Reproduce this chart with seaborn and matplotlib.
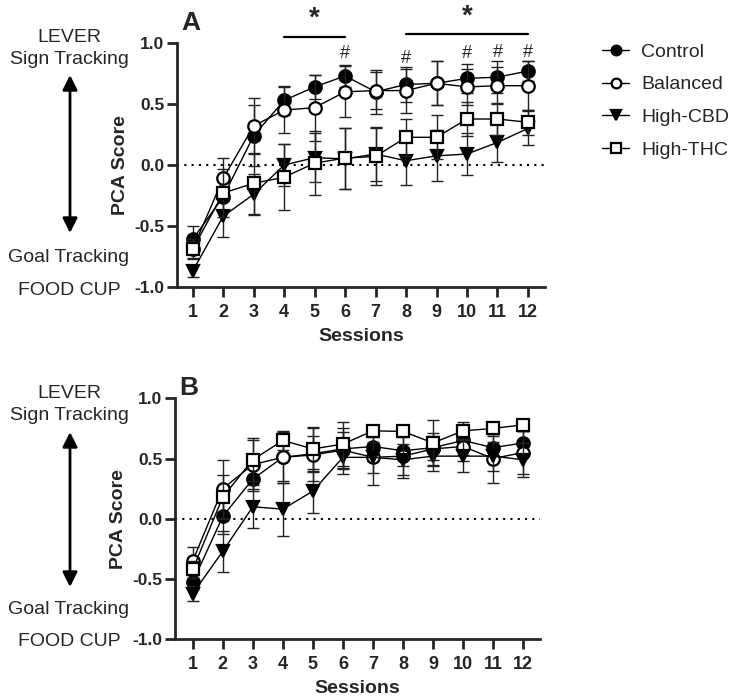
import numpy as np
import pandas as pd
import seaborn as sns
import matplotlib.pyplot as plt
from matplotlib.lines import Line2D

# Sessions 1..12
sessions = list(range(1, 13))
groups = ['Control', 'Balanced', 'High-CBD', 'High-THC']

# Panel A means / SEM
a_control = [-0.61, -0.26, 0.24, 0.53, 0.64, 0.73, 0.60, 0.66, 0.67, 0.71, 0.72, 0.77]
a_balanced = [-0.69, -0.11, 0.32, 0.45, 0.47, 0.60, 0.61, 0.61, 0.67, 0.64, 0.65, 0.65]
a_cbd = [-0.87, -0.42, -0.24, 0.00, 0.06, 0.05, 0.09, 0.035, 0.075, 0.09, 0.185, 0.30]
a_thc = [-0.69, -0.23, -0.15, -0.10, 0.015, 0.057, 0.07, 0.227, 0.227, 0.377, 0.377, 0.35]
a_control_err = [0.11, 0.12, 0.25, 0.12, 0.10, 0.09, 0.18, 0.14, 0.18, 0.12, 0.13, 0.08]
a_balanced_err = [0.08, 0.17, 0.23, 0.19, 0.27, 0.21, 0.15, 0.18, 0.18, 0.15, 0.15, 0.20]
a_cbd_err = [0.05, 0.17, 0.17, 0.17, 0.20, 0.25, 0.22, 0.20, 0.21, 0.17, 0.16, 0.14]
a_thc_err = [0.07, 0.20, 0.25, 0.27, 0.26, 0.25, 0.23, 0.15, 0.18, 0.14, 0.13, 0.10]

# Panel B means / SEM
b_control = [-0.525, 0.02, 0.33, 0.51, 0.54, 0.58, 0.60, 0.565, 0.59, 0.65, 0.59, 0.63]
b_balanced = [-0.35, 0.25, 0.45, 0.51, 0.53, 0.57, 0.51, 0.52, 0.58, 0.60, 0.50, 0.55]
b_cbd = [-0.62, -0.27, 0.10, 0.08, 0.23, 0.51, 0.51, 0.49, 0.52, 0.52, 0.52, 0.49]
b_thc = [-0.42, 0.18, 0.49, 0.65, 0.58, 0.62, 0.73, 0.725, 0.63, 0.73, 0.75, 0.78]
b_control_err = [0.06, 0.15, 0.10, 0.20, 0.15, 0.17, 0.12, 0.13, 0.10, 0.12, 0.10, 0.10]
b_balanced_err = [0.12, 0.24, 0.20, 0.21, 0.22, 0.15, 0.23, 0.18, 0.13, 0.12, 0.20, 0.18]
b_cbd_err = [0.06, 0.17, 0.18, 0.22, 0.18, 0.14, 0.13, 0.13, 0.12, 0.13, 0.12, 0.14]
b_thc_err = [0.07, 0.18, 0.18, 0.08, 0.18, 0.18, 0.05, 0.05, 0.19, 0.07, 0.05, 0.05]

# significance marks on panel A
hash_sessions = [6, 8, 10, 11, 12]
hash_y = [0.915, 0.87, 0.91, 0.92, 0.92]
star_ranges = [(4, 6), (8, 12)]

styles = {
    'Control': dict(marker='o', mfc='black'),
    'Balanced': dict(marker='o', mfc='white'),
    'High-CBD': dict(marker='v', mfc='black'),
    'High-THC': dict(marker='s', mfc='white'),
}

sns.set_style('ticks')
plt.rcParams['font.family'] = ['Liberation Sans', 'DejaVu Sans']

W, H = 732, 698


def make_df(means, errs):
    rows = []
    for g, m, e in zip(groups, means, errs):
        for s, v, ee in zip(sessions, m, e):
            rows.append({'session': s, 'score': v, 'err': ee, 'group': g})
    return pd.DataFrame(rows)


def draw_panel(ax, df, letter, letter_y, side_y):
    for i, g in enumerate(groups):
        d = df[df.group == g]
        ax.errorbar(d['session'], d['score'], yerr=d['err'], fmt='none', ecolor='#222222',
                    elinewidth=1.0, capsize=4, capthick=1.0, zorder=2 + i)
        sns.lineplot(data=d, x='session', y='score', ax=ax, color='black', lw=1.0,
                     marker=styles[g]['marker'], markersize=9 if styles[g]['marker'] != 'v' else 8,
                     markerfacecolor=styles[g]['mfc'], markeredgecolor='black',
                     markeredgewidth=1.6, zorder=3 + i, legend=False)
    ax.axhline(0, color='black', ls=(0, (1, 2.5)), lw=1.5, zorder=1)
    ax.set_ylim(-1, 1)
    ax.set_xticks(sessions)
    ax.set_yticks([-1.0, -0.5, 0.0, 0.5, 1.0])
    ax.set_yticklabels(['-1.0', '-0.5', '0.0', '0.5', '1.0'])
    for sp in ['left', 'bottom']:
        ax.spines[sp].set_linewidth(2)
    sns.despine(ax=ax)
    ax.tick_params(axis='x', width=2, length=7, labelsize=13, pad=5)
    ax.tick_params(axis='y', width=2, length=7, labelsize=12.5, pad=2)
    for t in ax.get_xticklabels() + ax.get_yticklabels():
        t.set_fontweight('bold')
    ax.set_xlabel('Sessions', fontsize=14, fontweight='bold', labelpad=5)
    ax.set_ylabel('PCA Score', fontsize=14, fontweight='bold', labelpad=4)
    ax.text(0.012, letter_y, letter, transform=ax.transAxes, fontsize=19,
            fontweight='bold', va='baseline', ha='left')
    # left-side direction annotation (figure pixel positions)
    tx = 69 / W
    y_lever, y_sign, y_top, y_bot, y_goal, y_food = side_y
    fig = ax.figure
    for txt, yy in [('LEVER', y_lever), ('Sign Tracking', y_sign),
                    ('Goal Tracking', y_goal), ('FOOD CUP', y_food)]:
        fig.text(tx, 1 - yy / H, txt, ha='center', va='center', fontsize=14)
    ax.annotate('', xy=(70 / W, 1 - y_top / H), xytext=(70 / W, 1 - y_bot / H),
                xycoords='figure fraction',
                arrowprops=dict(arrowstyle='<|-|>', color='black', lw=2,
                                mutation_scale=22, shrinkA=0, shrinkB=0))


fig = plt.figure(figsize=(W / 100, H / 100), dpi=100)
ax_a = fig.add_axes([177 / W, 1 - 287 / H, 368 / W, 244 / H])
ax_b = fig.add_axes([175 / W, 1 - 639.3 / H, 365 / W, 241 / H])

df_a = make_df([a_control, a_balanced, a_cbd, a_thc],
               [a_control_err, a_balanced_err, a_cbd_err, a_thc_err])
df_b = make_df([b_control, b_balanced, b_cbd, b_thc],
               [b_control_err, b_balanced_err, b_cbd_err, b_thc_err])

draw_panel(ax_a, df_a, 'A', 1.053, (38, 60, 75, 233, 257, 290))
draw_panel(ax_b, df_b, 'B', 1.012, (393, 415, 432, 587, 610, 642))
ax_a.set_xlim(0.485, 12.56)
ax_b.set_xlim(0.41, 12.56)

# significance marks
for (s0, s1), ly in zip(star_ranges, [1.05, 1.07]):
    ax_a.plot([s0, s1], [ly, ly], color='black', lw=1.6, clip_on=False)
    ax_a.text((s0 + s1) / 2, ly + 0.15, '*', ha='center', va='center', fontsize=20,
              fontweight='bold')
for s, y in zip(hash_sessions, hash_y):
    ax_a.text(s, y, '#', ha='center', va='center', fontsize=13)

# legend
handles = [Line2D([0], [0], color='black', lw=1.0, marker=styles[g]['marker'],
                  markersize=7, markerfacecolor=styles[g]['mfc'], markeredgecolor='black',
                  markeredgewidth=1.6) for g in groups]
fig.legend(handles, groups, loc='upper left', bbox_to_anchor=(602 / W, 1 - 43 / H),
           frameon=False, fontsize=14, handlelength=1.4, labelspacing=0.78,
           handletextpad=0.6, borderaxespad=0, borderpad=0)

fig.savefig('out.png', dpi=100)
